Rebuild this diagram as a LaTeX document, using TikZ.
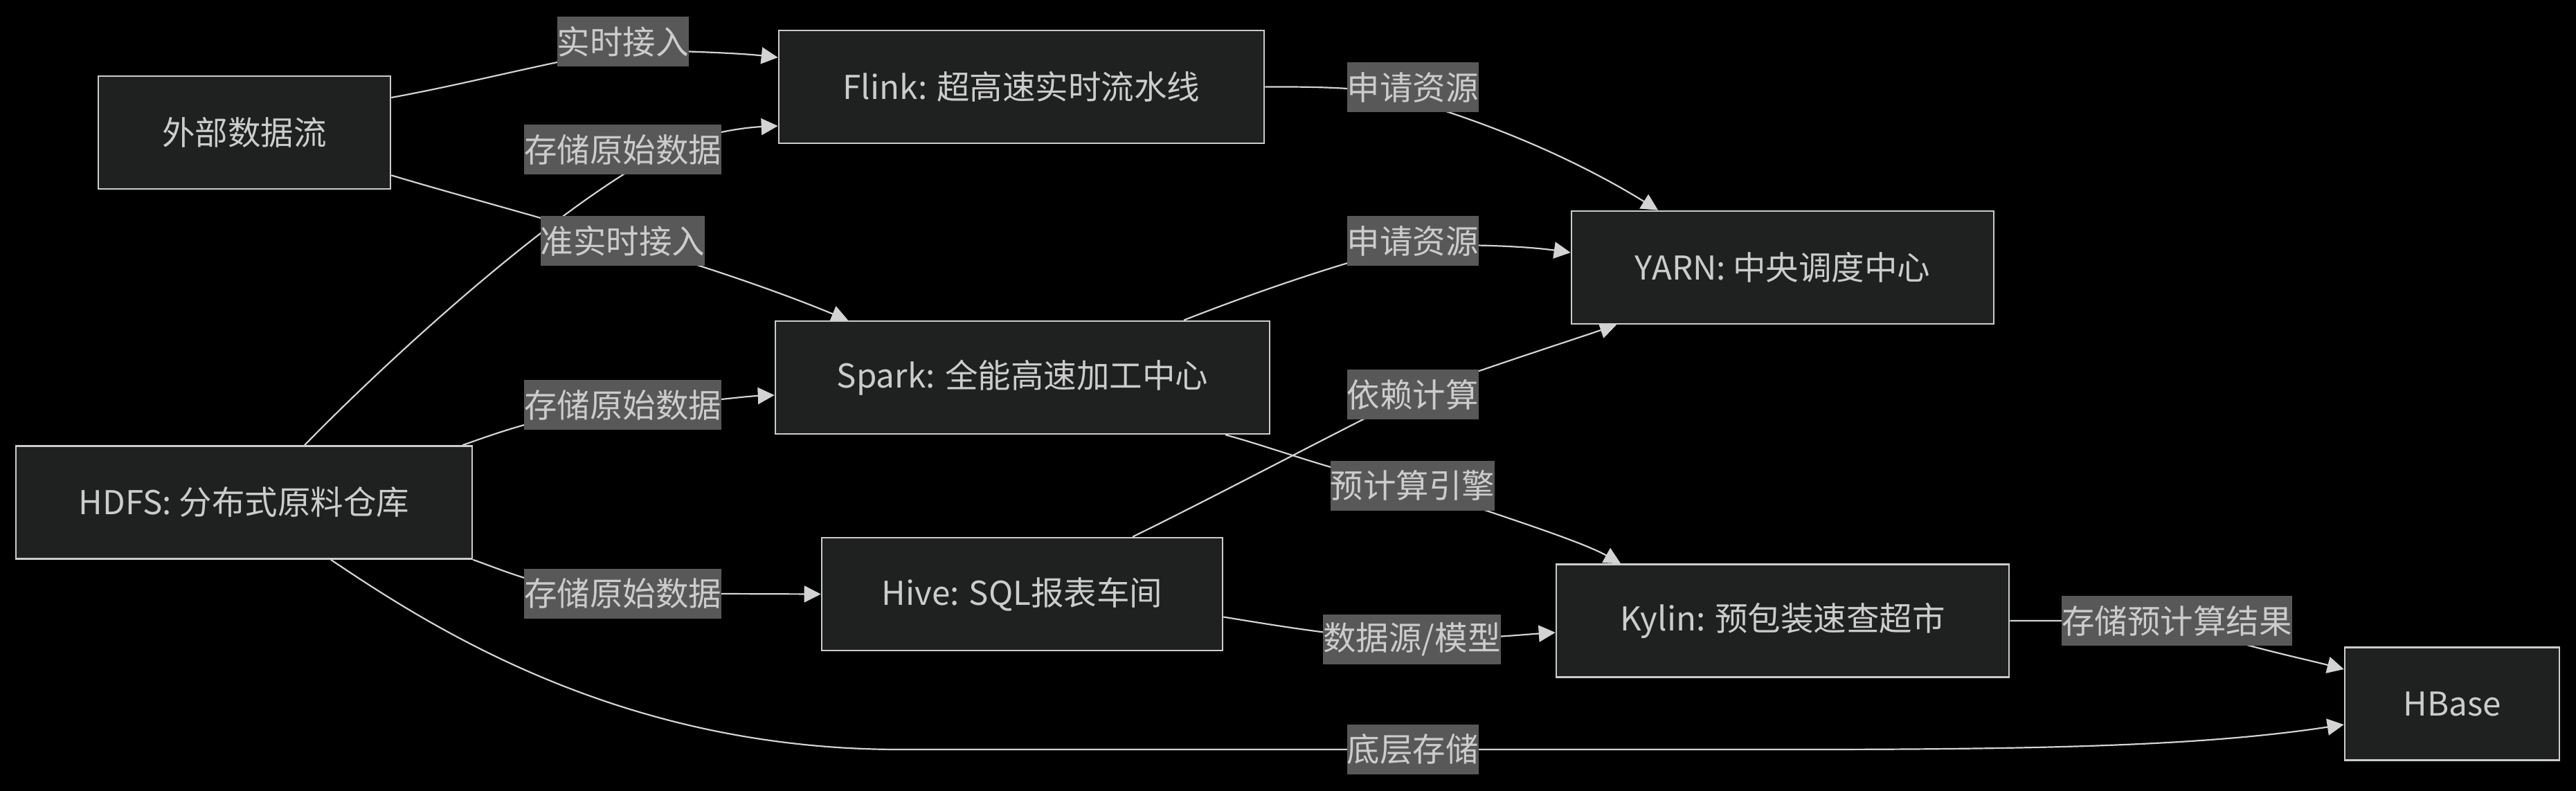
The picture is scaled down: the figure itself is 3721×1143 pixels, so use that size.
\documentclass[tikz,border=0pt]{standalone}
\usepackage{fontspec}
\setmainfont{Noto Sans CJK SC}
\usetikzlibrary{arrows.meta,calc}
\definecolor{nodefill}{HTML}{1F2020}
\definecolor{nodeline}{HTML}{CCCCCC}
\definecolor{edgecol}{HTML}{D3D3D3}
\definecolor{lblbg}{HTML}{585858}
\definecolor{txt}{HTML}{CCCCCC}
\pgfdeclarelayer{bg}
\pgfdeclarelayer{edges}
\pgfsetlayers{bg,edges,main}
\begin{document}
\begin{tikzpicture}[x=1pt,y=-1pt,
  box/.style={draw=nodeline,fill=nodefill,line width=2.6pt,minimum height=163pt,inner sep=0pt,text=txt,font=\fontsize{47.5pt}{57pt}\selectfont},
  elabel/.style={fill=lblbg,inner sep=0pt,minimum height=72pt,text=txt,font=\fontsize{47.5pt}{57pt}\selectfont},
  edge/.style={draw=edgecol,line width=2.2pt,-{Triangle[length=24pt,width=24pt]}}]
\useasboundingbox (0,0) rectangle (3721,1143);
\begin{pgfonlayer}{bg}
\fill[black] (0,0) rectangle (3721,1143);
\end{pgfonlayer}

% main nodes
\node[box,minimum width=422pt] (ext) at (353,191.5) {外部数据流};
\node[box,minimum width=701pt] (flink) at (1475.5,125.5) {Flink: 超高速实时流水线};
\node[box,minimum width=610pt] (yarn) at (2575,386.5) {YARN: 中央调度中心};
\node[box,minimum width=714pt] (spark) at (1477,545.5) {Spark: 全能高速加工中心};
\node[box,minimum width=659pt] (hdfs) at (352.5,726) {HDFS: 分布式原料仓库};
\node[box,minimum width=579pt] (hive) at (1476.5,858.5) {Hive: SQL报表车间};
\node[box,minimum width=654pt] (kylin) at (2575,897) {Kylin: 预包装速查超市};
\node[box,minimum width=310pt] (hbase) at (3542,1017) {HBase};

% edge labels
\node[elabel] (L1) at (899.5,60) {实时接入};
\node[elabel] (L2) at (899.5,216) {存储原始数据};
\node[elabel] (L3) at (899.5,348) {准实时接入};
\node[elabel] (L4) at (2040.5,126) {申请资源};
\node[elabel] (L5) at (2040.5,348) {申请资源};
\node[elabel] (L6) at (899.5,585) {存储原始数据};
\node[elabel] (L7) at (2040.5,570) {依赖计算};
\node[elabel] (L8) at (2040.5,701.5) {预计算引擎};
\node[elabel] (L9) at (899.5,857.5) {存储原始数据};
\node[elabel] (L10) at (2039.5,924) {数据源/模型};
\node[elabel] (L11) at (3144.5,897) {存储预计算结果};
\node[elabel] (L12) at (2040.5,1083) {底层存储};

\begin{pgfonlayer}{edges}
% ext -> flink
\draw[edge] ($(ext.east)+(0,-50.5)$) .. controls (680,120) and (790,90) .. ($(L1.center)+(0,12)$) .. controls (1000,74) and (1070,77) .. ($(flink.west)+(0,-42.5)$);
% hdfs -> flink
\draw[edge] ($(hdfs.north)+(87.5,0)$) .. controls (560,520) and (800,300) .. ($(L2.center)+(60,2)$) .. controls (1020,190) and (1080,184) .. ($(flink.west)+(0,56.5)$);
% ext -> spark
\draw[edge] ($(ext.south east)+(0,-21)$) .. controls (720,300) and (1000,370) .. ($(spark.north)+(-252,0)$);
% flink -> yarn
\draw[edge] (flink.east) .. controls (1920,125) and (1990,128) .. ($(L4.center)+(-20,14)$) .. controls (2180,185) and (2300,245) .. ($(yarn.north)+(-180,0)$);
% spark -> yarn
\draw[edge] ($(spark.north)+(233,0)$) .. controls (1780,435) and (1930,380) .. ($(L5.center)+(0,7)$) .. controls (2150,352) and (2220,358) .. ($(yarn.west)+(0,-21.5)$);
% hdfs -> spark
\draw[edge] ($(hdfs.north east)+(-15,0)$) .. controls (720,625) and (800,595) .. ($(L6.center)+(0,5)$) .. controls (1000,583) and (1070,573) .. ($(spark.west)+(0,25.5)$);
% hive -> yarn
\draw[edge] ($(hive.north)+(159.5,0)$) .. controls (1760,715) and (1900,640) .. (L7.center) .. controls (2150,530) and (2260,495) .. ($(yarn.south)+(-240,0)$);
% spark -> kylin
\draw[edge] ($(spark.south)+(293,0)$) .. controls (1850,650) and (1950,690) .. (L8.center) .. controls (2150,740) and (2280,780) .. ($(kylin.north)+(-234,0)$);
% hdfs -> hive
\draw[edge] (hdfs.south east) .. controls (730,825) and (800,857.5) .. (L9.center) -- (hive.west);
% hive -> kylin
\draw[edge] ($(hive.east)+(0,33)$) .. controls (1850,905) and (1950,922) .. (L10.center) .. controls (2130,924) and (2200,917) .. ($(kylin.west)+(0,17)$);
% kylin -> hbase
\draw[edge] (kylin.east) -- (L11.center) .. controls (3200,925) and (3320,950) .. ($(hbase.west)+(0,-50)$);
% hdfs -> hbase
\draw[edge] ($(hdfs.south)+(125.5,0)$) .. controls (628,910) and (900,1083) .. (1300,1083) -- (L12.center) -- (2600,1083) .. controls (3000,1083) and (3200,1075) .. ($(hbase.west)+(0,30)$);
\end{pgfonlayer}
\end{tikzpicture}
\end{document}
